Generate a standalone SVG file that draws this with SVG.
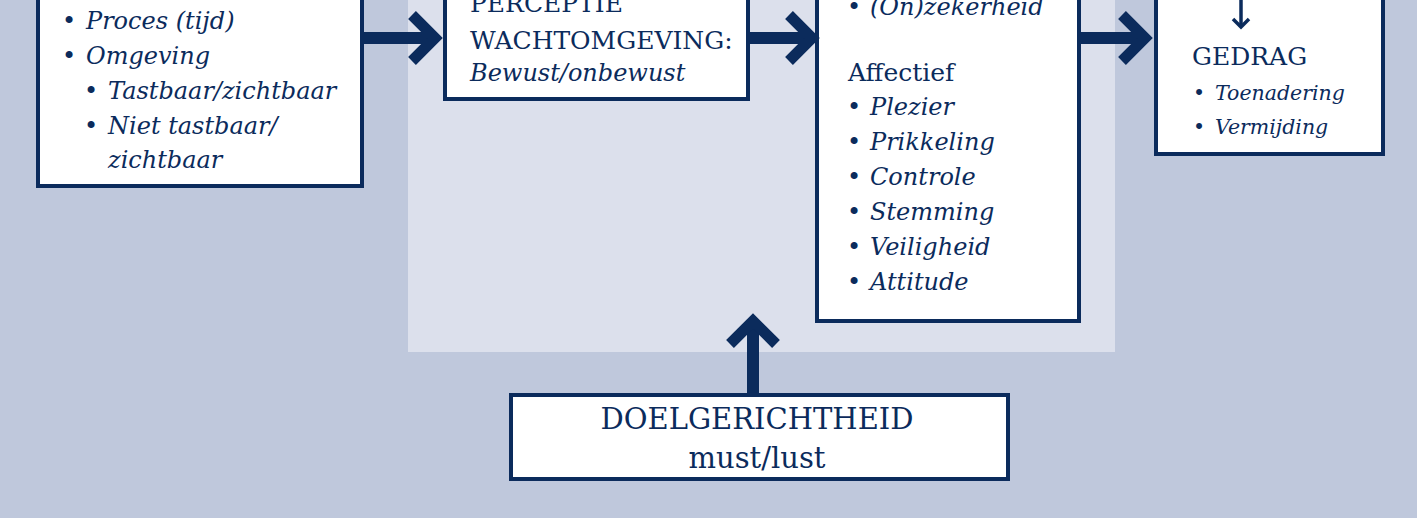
<svg xmlns="http://www.w3.org/2000/svg" width="1417" height="518" viewBox="0 0 1417 518">
<style>
.box{fill:#ffffff;stroke:#0b2b5c;stroke-width:4}
text{font-family:"DejaVu Serif","Liberation Serif",serif;fill:#0b2b5c}
.it{font-style:italic;font-size:24px}
.up{font-size:25px}
.sm{font-style:italic;font-size:20.5px}
.big{font-size:29px}
.shaft{stroke:#0b2b5c;stroke-width:12;fill:none}
.head{stroke:#0b2b5c;stroke-width:11;fill:none;stroke-linejoin:miter;stroke-miterlimit:4}
</style>
<rect x="0" y="0" width="1417" height="518" fill="#bfc8dc"/>
<rect x="408" y="0" width="707" height="352" fill="#dce0ec"/>

<g id="node-factoren">
<rect class="box" x="38" y="-20" width="324" height="206"/>
<text class="it"><tspan x="62" y="29">•</tspan><tspan x="86" y="29">Proces (tijd)</tspan></text>
<text class="it"><tspan x="62" y="64">•</tspan><tspan x="86" y="64">Omgeving</tspan></text>
<text class="it"><tspan x="84" y="99">•</tspan><tspan x="108" y="99">Tastbaar/zichtbaar</tspan></text>
<text class="it"><tspan x="84" y="134">•</tspan><tspan x="108" y="134">Niet tastbaar/</tspan></text>
<text class="it" x="108" y="168">zichtbaar</text>
</g>

<g id="node-perceptie">
<rect class="box" x="445" y="-20" width="303" height="119"/>
<text class="up" x="470" y="12">PERCEPTIE</text>
<text class="up" x="470" y="49">WACHTOMGEVING:</text>
<text class="it" x="470" y="81">Bewust/onbewust</text>
</g>

<g id="node-evaluatie">
<rect class="box" x="817" y="-20" width="262" height="341"/>
<text class="it"><tspan x="847" y="15">•</tspan><tspan x="870" y="15">(On)zekerheid</tspan></text>
<text class="up" x="848" y="81">Affectief</text>
<text class="it"><tspan x="847" y="115">•</tspan><tspan x="870" y="115">Plezier</tspan></text>
<text class="it"><tspan x="847" y="150">•</tspan><tspan x="870" y="150">Prikkeling</tspan></text>
<text class="it"><tspan x="847" y="185">•</tspan><tspan x="870" y="185">Controle</tspan></text>
<text class="it"><tspan x="847" y="220">•</tspan><tspan x="870" y="220">Stemming</tspan></text>
<text class="it"><tspan x="847" y="255">•</tspan><tspan x="870" y="255">Veiligheid</tspan></text>
<text class="it"><tspan x="847" y="290">•</tspan><tspan x="870" y="290">Attitude</tspan></text>
</g>

<g id="node-gedrag">
<rect class="box" x="1156" y="-20" width="227" height="174"/>
<line x1="1241" y1="-5" x2="1241" y2="26" stroke="#0b2b5c" stroke-width="3.5"/>
<polyline points="1233,19 1241,27 1249,19" fill="none" stroke="#0b2b5c" stroke-width="3.5"/>
<text class="up" x="1192" y="65">GEDRAG</text>
<text class="sm"><tspan x="1193" y="100">•</tspan><tspan x="1215" y="100">Toenadering</tspan></text>
<text class="sm"><tspan x="1193" y="134">•</tspan><tspan x="1215" y="134">Vermijding</tspan></text>
</g>

<g id="node-doelgerichtheid">
<rect class="box" x="511" y="395" width="497" height="84"/>
<text class="big" x="757" y="429" text-anchor="middle">DOELGERICHTHEID</text>
<text class="big" x="757" y="468" text-anchor="middle">must/lust</text>
</g>

<g id="connectors">
<line class="shaft" x1="362" y1="38" x2="434" y2="38"/>
<polyline class="head" points="412,15 435,38 412,61"/>
<line class="shaft" x1="748" y1="38" x2="811" y2="38"/>
<polyline class="head" points="789,15 812,38 789,61"/>
<line class="shaft" x1="1079" y1="38" x2="1144" y2="38"/>
<polyline class="head" points="1122,15 1145,38 1122,61"/>
<line class="shaft" x1="753" y1="393" x2="753" y2="322"/>
<polyline class="head" points="730,344 753,321 776,344"/>
</g>
</svg>
